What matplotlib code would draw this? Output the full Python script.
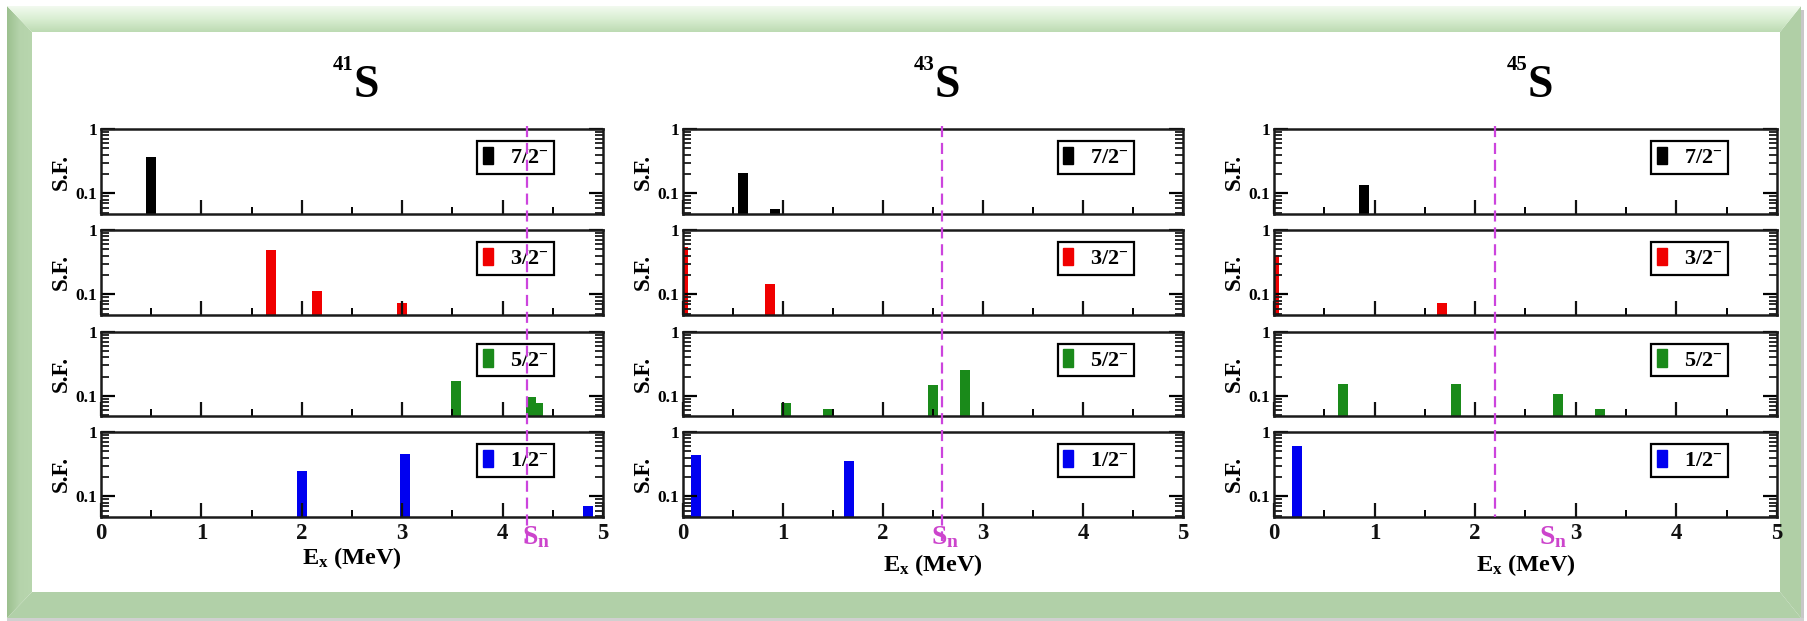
import matplotlib
matplotlib.use('Agg')
import numpy as np
import matplotlib.pyplot as plt
import matplotlib.transforms as mtransforms
from matplotlib.ticker import MultipleLocator, LogLocator, NullFormatter
from matplotlib.patches import Polygon, Patch
from matplotlib.lines import Line2D
from matplotlib.colors import LinearSegmentedColormap

plt.rcParams['font.family'] = ['Liberation Serif', 'DejaVu Serif']
plt.rcParams['mathtext.fontset'] = 'custom'
plt.rcParams['mathtext.rm'] = 'Liberation Serif:bold'
plt.rcParams['mathtext.bf'] = 'Liberation Serif:bold'
plt.rcParams['mathtext.it'] = 'Liberation Serif:bold:italic'
plt.rcParams['mathtext.default'] = 'rm'

# ---------------- data ----------------
nuclei = ['41', '43', '45']
levels = ['7/2', '3/2', '5/2', '1/2']
level_colors = ['#000000', '#f00000', '#1a8a1a', '#0000f0']

# 41S
e41_72 = [0.50];               sf41_72 = [0.37]
e41_32 = [1.69, 2.15, 3.00];   sf41_32 = [0.49, 0.112, 0.075]
e41_52 = [3.54, 4.28, 4.35];   sf41_52 = [0.17, 0.096, 0.078]
e41_12 = [2.00, 3.03, 4.85];   sf41_12 = [0.25, 0.455, 0.071]
# 43S
e43_72 = [0.60, 0.92];               sf43_72 = [0.21, 0.057]
e43_32 = [0.00, 0.87];               sf43_32 = [0.55, 0.145]
e43_52 = [1.03, 1.45, 2.50, 2.82];   sf43_52 = [0.076, 0.061, 0.145, 0.256]
e43_12 = [0.13, 1.66];               sf43_12 = [0.44, 0.36]
# 45S
e45_72 = [0.89];                     sf45_72 = [0.135]
e45_32 = [0.00, 1.67];               sf45_32 = [0.41, 0.074]
e45_52 = [0.69, 1.81, 2.82, 3.24];   sf45_52 = [0.15, 0.15, 0.105, 0.061]
e45_12 = [0.23];                     sf45_12 = [0.61]

energies = [[e41_72, e41_32, e41_52, e41_12],
            [e43_72, e43_32, e43_52, e43_12],
            [e45_72, e45_32, e45_52, e45_12]]
strengths = [[sf41_72, sf41_32, sf41_52, sf41_12],
             [sf43_72, sf43_32, sf43_52, sf43_12],
             [sf45_72, sf45_32, sf45_52, sf45_12]]

sn_values = [4.24, 2.59, 2.20]
sn_label_x = [4.19, 2.48, 2.63]

x_ticks = [0, 1, 2, 3, 4, 5]
y_ticks = [0.1, 1]
y_ticklabels = ['0.1', '1']
bar_width = 0.1

# ---------------- figure & frame ----------------
W, H = 1808, 621
fig = plt.figure(figsize=(W / 100, H / 100), dpi=100)
fig.patch.set_facecolor('white')

bg = fig.add_axes([0, 0, 1, 1], zorder=-10)
bg.set_xlim(0, W)
bg.set_ylim(H, 0)
bg.axis('off')

OL, OT, OR, OB = 7, 6, 1801, 618
IL, IT, IR, IB = 32, 32, 1780, 592

# shadow
bg.add_patch(Polygon([(OR, OT + 4), (OR + 3, OT + 4), (OR + 3, OB + 3), (OR, OB + 3)], closed=True,
                     facecolor='#c8c8c8', edgecolor='none'))
bg.add_patch(Polygon([(OL, OB), (OR + 3, OB), (OR + 3, OB + 3), (OL, OB + 3)], closed=True,
                     facecolor='#d0d0d0', edgecolor='none'))

# right & bottom bevels
bg.add_patch(Polygon([(IR, IT), (OR, OT), (OR, OB), (IR, IB)], closed=True,
                     facecolor='#b0cfa6', edgecolor='none'))
bg.add_patch(Polygon([(OL, OB), (IL, IB), (IR, IB), (OR, OB)], closed=True,
                     facecolor='#b1d0a8', edgecolor='none'))
# left bevel (gradient)
left_poly = Polygon([(OL, OT), (IL, IT), (IL, IB), (OL, OB)], closed=True,
                    facecolor='none', edgecolor='none')
bg.add_patch(left_poly)
cm_left = LinearSegmentedColormap.from_list('l', ['#9cc08f', '#b5d3ab', '#b8d6ae'])
im = bg.imshow(np.linspace(0, 1, 64)[None, :], extent=(OL, IL, OB, OT), cmap=cm_left,
               aspect='auto', origin='upper', zorder=1)
im.set_clip_path(left_poly)
# top bevel (gradient)
top_poly = Polygon([(OL, OT), (OR, OT), (IR, IT), (IL, IT)], closed=True,
                   facecolor='none', edgecolor='none')
bg.add_patch(top_poly)
cm_top = LinearSegmentedColormap.from_list('t', ['#f2faef', '#d9eed2', '#bddbb3'])
im2 = bg.imshow(np.linspace(0, 1, 64)[:, None], extent=(OL, OR, IT, OT), cmap=cm_top,
                aspect='auto', origin='upper', zorder=1)
im2.set_clip_path(top_poly)
# inner white
bg.add_patch(Polygon([(IL, IT), (IR, IT), (IR, IB), (IL, IB)], closed=True,
                     facecolor='white', edgecolor='none', zorder=2))
bg.set_xlim(0, W)
bg.set_ylim(H, 0)

# ---------------- panels ----------------
panel_left = [101, 683, 1274]
panel_right = [603, 1183, 1777]
row_top = [129, 230, 332, 432]
row_bot = [214, 315, 416, 517]
xlabel_pad = [1, 6, 6]
sn_line_bottom = [547, 541, 517]

for p in range(3):
    axes = []
    for r in range(4):
        l, rt = panel_left[p], panel_right[p]
        t, b = row_top[r], row_bot[r]
        ax = fig.add_axes([l / W, 1 - b / H, (rt - l) / W, (b - t) / H])
        ax.set_yscale('log')
        ax.bar(energies[p][r], strengths[p][r], width=bar_width,
               color=level_colors[r], edgecolor='none', align='center')
        ax.set_xlim(0, 5)
        ax.set_ylim(0.048, 1.0)
        ax.set_xticks(x_ticks)
        ax.xaxis.set_minor_locator(MultipleLocator(0.5))
        ax.set_yticks(y_ticks)
        ax.set_yticklabels(y_ticklabels)
        ax.yaxis.set_minor_locator(LogLocator(base=10, subs=np.arange(2, 10), numticks=30))
        ax.yaxis.set_minor_formatter(NullFormatter())
        ax.tick_params(axis='x', which='major', direction='in', length=10, width=1.6,
                       top=False, bottom=True, labelsize=16.5, pad=4, colors='#111111')
        ax.tick_params(axis='x', which='minor', direction='in', length=5, width=1.4,
                       top=False, bottom=True)
        ax.tick_params(axis='y', which='major', direction='in', length=10, width=1.6,
                       left=True, right=True, labelsize=12.5, pad=3)
        ax.tick_params(axis='y', which='minor', direction='in', length=6, width=1.3,
                       left=True, right=True, color='#1a1a1a')
        for lab in ax.get_xticklabels() + ax.get_yticklabels():
            lab.set_fontweight('bold')
        for s in ax.spines.values():
            s.set_linewidth(1.8)
            s.set_color('#1a1a1a')
        ax.set_ylabel('S.F.', fontsize=16.5, fontweight='bold', labelpad=2)
        if r < 3:
            ax.tick_params(axis='x', labelbottom=False)
        else:
            ax.set_xlabel(r'E$_{\rm x}$ (MeV)', fontsize=17.5, fontweight='bold',
                          labelpad=xlabel_pad[p])
        handle = Patch(facecolor=level_colors[r], edgecolor=level_colors[r])
        leg = ax.legend([handle], [levels[r] + r'$^{-}$'], loc='center',
                        bbox_to_anchor=(0.826, 0.665), frameon=True, fancybox=False,
                        edgecolor='black', framealpha=1, handlelength=0.45,
                        handleheight=0.85, handletextpad=0.75, borderpad=0.25,
                        borderaxespad=0, prop={'weight': 'bold', 'size': 16})
        leg.get_frame().set_linewidth(1.6)
        axes.append(ax)

    # Sn dashed line across the four rows
    ax_b = axes[-1]
    tr = mtransforms.blended_transform_factory(ax_b.transData, fig.transFigure)
    line = Line2D([sn_values[p], sn_values[p]], [1 - 126 / H, 1 - sn_line_bottom[p] / H],
                  transform=tr, color='#cc44dd', lw=1.6, dashes=(5, 2.6), zorder=5)
    fig.add_artist(line)
    fig.text(sn_label_x[p], 1 - 544 / H, r'S$_{\rm n}$', transform=tr, color='#cc44cc',
             fontsize=20, fontweight='bold', ha='left', va='baseline', zorder=6)

    # title  ^{A}S
    cx = (panel_left[p] + panel_right[p]) / 2 + 2
    fig.text(cx / W, 1 - 97 / H, 'S', fontsize=33, fontweight='bold',
             ha='left', va='baseline')
    fig.text(cx / W, 1 - 70 / H, nuclei[p], fontsize=15, fontweight='bold',
             ha='right', va='baseline')

fig.savefig('out.png', dpi=100, facecolor='white')
